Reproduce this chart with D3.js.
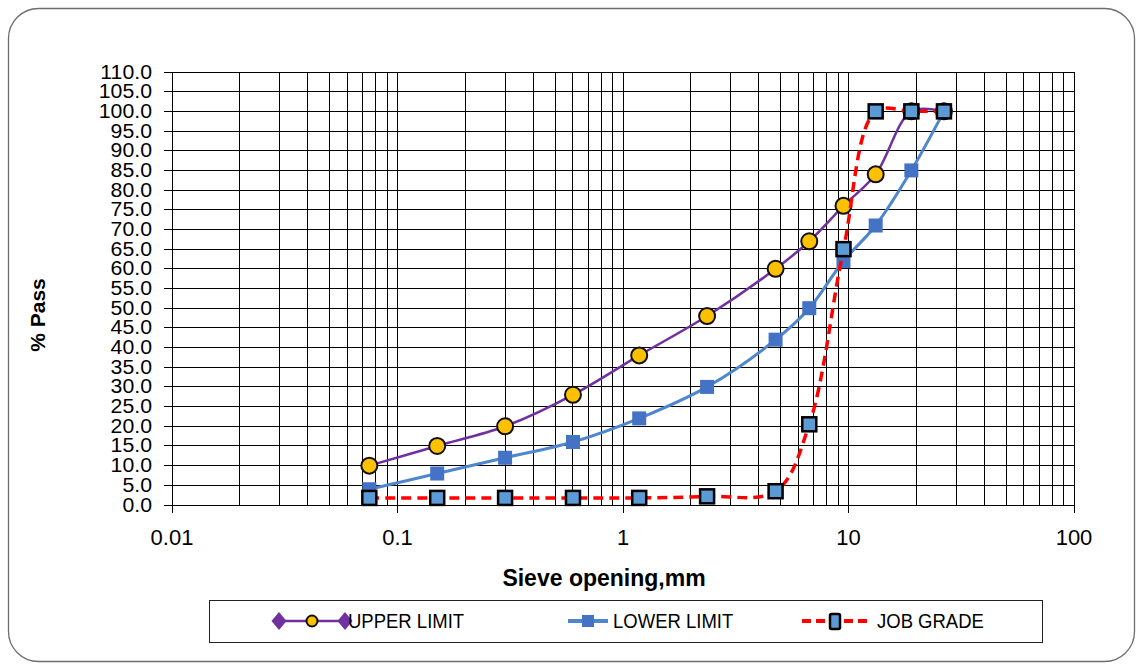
<!DOCTYPE html>
<html>
<head>
<meta charset="utf-8">
<script src="https://cdn.jsdelivr.net/npm/d3@7"></script>
<style>
    body { margin: 0; background: #fff; }
    text { font-family: "Liberation Sans", Arial, sans-serif; }
</style>
</head>
<body>
<div id="chart"></div>
<script>
const width = 1143;
const height = 670;
const marginLeft = 172;
const marginRight = 69;
const marginTop = 72;
const marginBottom = 165;

// sieve sizes, mm
const sieves = [0.075, 0.15, 0.3, 0.6, 1.18, 2.36, 4.75, 6.7, 9.5, 13.2, 19, 26.5];
const upperLimit = [10, 15, 20, 28, 38, 48, 60, 67, 76, 84, 100, 100];
const lowerLimit = [4, 8, 12, 16, 22, 30, 42, 50, 62, 71, 85, 100];
const jobGrade = [1.8, 1.8, 1.8, 1.8, 1.8, 2.2, 3.5, 20.5, 65, 100, 100, 100];

const xTicks = [0.01, 0.1, 1, 10, 100];
const yTicks = d3.range(0, 110.1, 5);
const xTickLabels = ["0.01", "0.1", "1", "10", "100"];

const svg = d3.select("#chart").append("svg")
    .attr("width", width)
    .attr("height", height);

const x = d3.scaleLog()
    .domain([0.01, 100])
    .range([marginLeft, width - marginRight]);

const y = d3.scaleLinear()
    .domain([0, 110])
    .range([height - marginBottom, marginTop]);

// chart frame
svg.append("rect")
    .attr("x", 8.5)
    .attr("y", 8.5)
    .attr("width", width - 17)
    .attr("height", height - 17)
    .attr("rx", 30)
    .attr("fill", "#fff")
    .attr("stroke", "#6e6e6e")
    .attr("stroke-width", 1.3);

/**
 * Draws the grid lines, both axes and their tick labels
 */
function drawGrid() {
    const minor = [];
    for (let p = -2; p < 2; p++) {
        for (let k = 1; k < 10; k++) minor.push(k * Math.pow(10, p));
    }
    minor.push(100);

    const grid = svg.append("g")
        .attr("class", "grid")
        .attr("stroke", "#000")
        .attr("stroke-width", 1)
        .attr("shape-rendering", "crispEdges");

    grid.selectAll(".vline")
        .data(minor)
        .enter().append("line")
        .attr("x1", d => x(d))
        .attr("x2", d => x(d))
        .attr("y1", y(110))
        .attr("y2", d => xTicks.includes(d) ? y(0) + 8 : y(0));

    grid.selectAll(".hline")
        .data(yTicks)
        .enter().append("line")
        .attr("x1", x(0.01) - 8)
        .attr("x2", x(100))
        .attr("y1", d => y(d))
        .attr("y2", d => y(d));

    svg.append("g")
        .selectAll("text")
        .data(yTicks)
        .enter().append("text")
        .attr("transform", d => `translate(${x(0.01) - 20},${y(d) + 6.5}) scale(1.15,1.08)`)
        .attr("text-anchor", "end")
        .style("font-size", "18.5px")
        .text(d => d3.format(".1f")(d));

    svg.append("g")
        .selectAll("text")
        .data(xTicks)
        .enter().append("text")
        .attr("x", d => x(d))
        .attr("y", y(0) + 40)
        .attr("text-anchor", "middle")
        .style("font-size", "22px")
        .text((d, i) => xTickLabels[i]);
}

/**
 * Draws the axis titles
 */
function drawAxisLabels() {
    svg.append("text")
        .attr("transform", `translate(45, 315) rotate(-90)`)
        .attr("text-anchor", "middle")
        .style("font-size", "21px")
        .style("font-weight", "bold")
        .text("% Pass");

    svg.append("text")
        .attr("x", 604)
        .attr("y", 586)
        .attr("text-anchor", "middle")
        .style("font-size", "23px")
        .style("font-weight", "bold")
        .text("Sieve opening,mm");
}

drawGrid();
drawAxisLabels();

const line = d3.line()
    .x(d => x(d[0]))
    .y(d => y(d[1]))
    .curve(d3.curveCatmullRom);

const pairs = vals => sieves.map((s, i) => [s, vals[i]]);

// upper limit
svg.append("path")
    .datum(pairs(upperLimit))
    .attr("d", line)
    .attr("fill", "none")
    .attr("stroke", "#7030a0")
    .attr("stroke-width", 2.5);

svg.append("g")
    .selectAll("circle")
    .data(pairs(upperLimit))
    .enter().append("circle")
    .attr("cx", d => x(d[0]))
    .attr("cy", d => y(d[1]))
    .attr("r", 8)
    .attr("fill", "#ffc000")
    .attr("stroke", "#111")
    .attr("stroke-width", 2);

// lower limit
svg.append("path")
    .datum(pairs(lowerLimit))
    .attr("d", line)
    .attr("fill", "none")
    .attr("stroke", "#4f86d0")
    .attr("stroke-width", 3);

svg.append("g")
    .selectAll("rect")
    .data(pairs(lowerLimit))
    .enter().append("rect")
    .attr("x", d => x(d[0]) - 7)
    .attr("y", d => y(d[1]) - 7)
    .attr("width", 14)
    .attr("height", 14)
    .attr("fill", "#4472c4");

// job grade
svg.append("path")
    .datum(pairs(jobGrade))
    .attr("d", line)
    .attr("fill", "none")
    .attr("stroke", "#ff0000")
    .attr("stroke-width", 3.5)
    .attr("stroke-dasharray", "10,6");

svg.append("g")
    .selectAll("rect")
    .data(pairs(jobGrade))
    .enter().append("rect")
    .attr("x", d => x(d[0]) - 7)
    .attr("y", d => y(d[1]) - 7)
    .attr("width", 14)
    .attr("height", 14)
    .attr("fill", "#5b9bd5")
    .attr("stroke", "#000")
    .attr("stroke-width", 2.5);

// legend
const legend = svg.append("g").attr("class", "legend");

legend.append("rect")
    .attr("x", 209.5)
    .attr("y", 600.5)
    .attr("width", 833)
    .attr("height", 42)
    .attr("fill", "#fff")
    .attr("stroke", "#222")
    .attr("stroke-width", 1);

const ly = 621;

legend.append("line")
    .attr("x1", 278).attr("x2", 342).attr("y1", ly).attr("y2", ly)
    .attr("stroke", "#7030a0").attr("stroke-width", 2.5);
legend.selectAll(".dia")
    .data([279, 345])
    .enter().append("path")
    .attr("d", "M0,-9L7.5,0L0,9L-7.5,0Z")
    .attr("transform", d => `translate(${d},${ly})`)
    .attr("fill", "#7030a0");
legend.append("circle")
    .attr("cx", 312).attr("cy", ly).attr("r", 5.5)
    .attr("fill", "#ffc000").attr("stroke", "#111").attr("stroke-width", 2);

legend.append("line")
    .attr("x1", 568).attr("x2", 608).attr("y1", ly).attr("y2", ly)
    .attr("stroke", "#4f86d0").attr("stroke-width", 4);
legend.append("rect")
    .attr("x", 582).attr("y", ly - 6).attr("width", 12).attr("height", 12)
    .attr("fill", "#4472c4");

legend.append("line")
    .attr("x1", 802).attr("x2", 868).attr("y1", ly).attr("y2", ly)
    .attr("stroke", "#ff0000").attr("stroke-width", 4)
    .attr("stroke-dasharray", "9,5");
legend.append("rect")
    .attr("x", 830).attr("y", ly - 7).attr("width", 10).attr("height", 15)
    .attr("rx", 1.5)
    .attr("fill", "#5b9bd5").attr("stroke", "#000").attr("stroke-width", 2.5);

const legendText = [
    {label: "UPPER LIMIT", x: 348},
    {label: "LOWER LIMIT", x: 613},
    {label: "JOB GRADE", x: 877}
];

legend.selectAll(".ltext")
    .data(legendText)
    .enter().append("text")
    .attr("transform", d => `translate(${d.x},${ly + 6.5}) scale(1,1.08)`)
    .style("font-size", "18.5px")
    .text(d => d.label);
</script>
</body>
</html>
